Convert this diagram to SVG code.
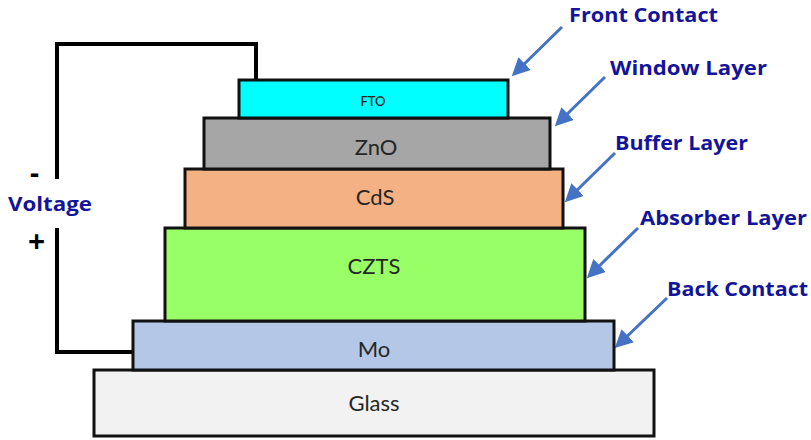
<svg xmlns="http://www.w3.org/2000/svg" width="811" height="440" viewBox="0 0 811 440">
<defs>
<style>
.layer{stroke:#111;stroke-width:3}
.lbl{font-family:Lato,"Open Sans",sans-serif;fill:#262626;text-anchor:middle;font-size:22px}
.call{font-family:"Open Sans",Lato,sans-serif;font-weight:bold;fill:#14149a;font-size:20px}
.sign{font-family:"Open Sans",Lato,sans-serif;font-weight:bold;fill:#000}
.wire{fill:none;stroke:#000;stroke-width:4}
.arr{stroke:#4472C4;stroke-width:3;fill:none}
</style>
<marker id="ah" markerWidth="6" markerHeight="6" refX="4.5" refY="3" orient="auto" markerUnits="strokeWidth">
<path d="M0,0 L6,3 L0,6 Z" fill="#4472C4"/>
</marker>
</defs>
<rect width="811" height="440" fill="#fff"/>
<g id="connectors">
<polyline class="wire" points="57,179 57,44 256,44 256,80"/>
<polyline class="wire" points="57,228 57,352 133,352"/>
<line class="arr" x1="562" y1="27" x2="515" y2="73" marker-end="url(#ah)"/>
<line class="arr" x1="605" y1="77" x2="558" y2="123" marker-end="url(#ah)"/>
<line class="arr" x1="615" y1="153" x2="568" y2="199" marker-end="url(#ah)"/>
<line class="arr" x1="638" y1="228" x2="590" y2="275" marker-end="url(#ah)"/>
<line class="arr" x1="667" y1="298" x2="618" y2="345" marker-end="url(#ah)"/>
</g>
<g id="glass"><rect class="layer" x="94" y="370" width="560" height="66" fill="#F2F2F2"/><text class="lbl" x="374" y="411">Glass</text></g>
<g id="mo"><rect class="layer" x="133" y="321" width="481" height="49" fill="#B4C7E7"/><text class="lbl" x="374" y="357">Mo</text></g>
<g id="czts"><rect class="layer" x="165" y="228" width="420" height="93" fill="#99FF66"/><text class="lbl" x="374" y="274">CZTS</text></g>
<g id="cds"><rect class="layer" x="185" y="169" width="378" height="59" fill="#F4B183"/><text class="lbl" x="375" y="205">CdS</text></g>
<g id="zno"><rect class="layer" x="204" y="118" width="346" height="51" fill="#A6A6A6"/><text class="lbl" x="376" y="155">ZnO</text></g>
<g id="fto"><rect class="layer" x="239" y="80" width="269" height="38" fill="#00FFFF"/><text class="lbl" x="373" y="106" style="font-size:13px;font-weight:600">FTO</text></g>
<g id="voltage">
<text class="call" x="8" y="211" textLength="84" lengthAdjust="spacingAndGlyphs">Voltage</text>
<text class="sign" x="30" y="183" style="font-size:28px">-</text>
<text class="sign" x="28" y="252" style="font-size:30px">+</text>
</g>
<g id="labels">
<text class="call" x="569" y="22" textLength="149" lengthAdjust="spacingAndGlyphs">Front Contact</text>
<text class="call" x="610" y="75" textLength="157" lengthAdjust="spacingAndGlyphs">Window Layer</text>
<text class="call" x="615" y="150" textLength="133" lengthAdjust="spacingAndGlyphs">Buffer Layer</text>
<text class="call" x="640" y="225" textLength="167" lengthAdjust="spacingAndGlyphs">Absorber Layer</text>
<text class="call" x="667" y="296" textLength="141" lengthAdjust="spacingAndGlyphs">Back Contact</text>
</g>
</svg>
